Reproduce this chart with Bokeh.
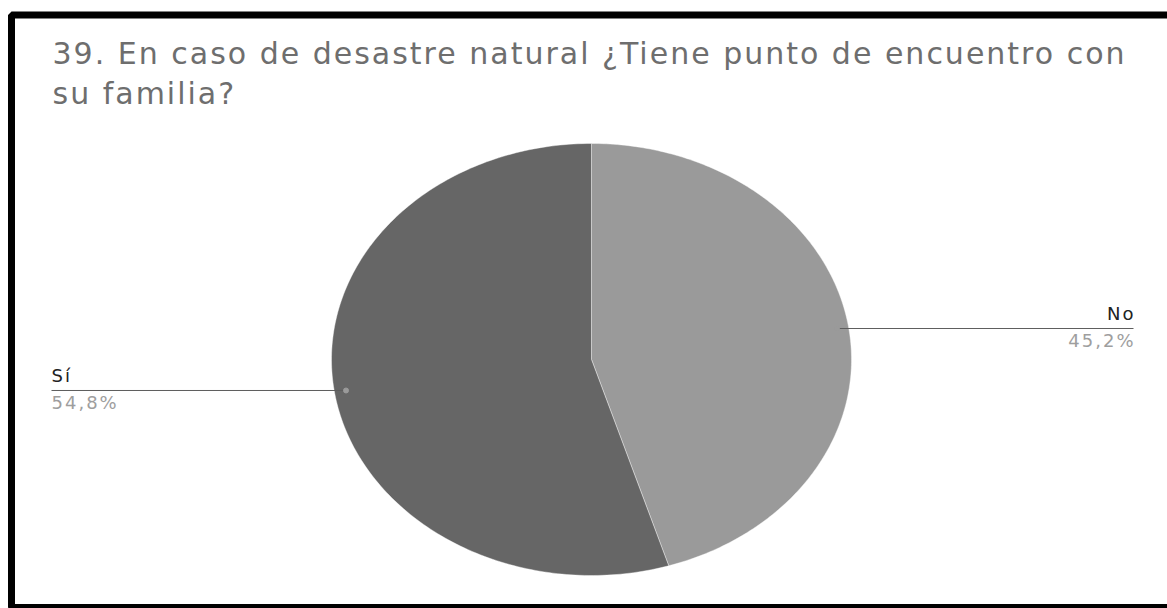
import numpy as np
from bokeh.plotting import figure
from bokeh.models import Range1d, ColumnDataSource, InlineStyleSheet
from bokeh.core.properties import value
from bokeh.embed import file_html
from bokeh.resources import INLINE

# ---- data ----
labels = ["No", "Sí"]
values = [45.2, 54.8]
colors = ["#9a9a9a", "#666666"]
title_lines = ["39. En caso de desastre natural ¿Tiene punto de encuentro con", "su familia?"]

FONT = "DejaVu Sans"
SPACING = 2.0          # letter spacing in px
TITLE_FS = 30
LABEL_FS = 18
BL = 0.42              # baseline correction (fraction of font size)

# ---- figure in page-pixel coordinates ----
p = figure(width=1167, height=608,
           x_range=Range1d(0, 1167), y_range=Range1d(608, 0),
           output_backend="svg", toolbar_location=None, min_border=0,
           x_axis_location=None, y_axis_location=None)
p.grid.visible = False
p.outline_line_color = None
p.background_fill_color = "white"
p.border_fill_color = "white"
p.stylesheets = [InlineStyleSheet(css=":host { letter-spacing: %spx; }" % SPACING)]

# pie geometry (ellipse)
cx, cy, rx, ry = 591, 359, 260, 216

total = float(sum(values))
fracs = [v / total for v in values]
xs, ys, mids = [], [], []
start = 0.0
for f in fracs:
    end = start + f
    a = np.linspace(start, end, 200) * 2 * np.pi
    xs.append([cx] + list(cx + rx * np.sin(a)))
    ys.append([cy] + list(cy - ry * np.cos(a)))
    mids.append((start + end) / 2 * 2 * np.pi)
    start = end

p.patches(xs=xs, ys=ys, fill_color=colors, line_color="white",
          line_width=0.8, line_alpha=0.5)

# leaders & labels
ax = [cx + 0.955 * rx * np.sin(m) for m in mids]
ay = [cy - 0.955 * ry * np.cos(m) for m in mids]
right = [np.sin(m) > 0 for m in mids]
ex = [1133 if r else 51 for r in right]
align = ["right" if r else "left" for r in right]
pct = [("%.1f" % (f * 100)).replace(".", ",") + "%" for f in fracs]

# right-aligned texts: compensate for letter spacing
nx = [e - (SPACING * (len(t) - 1) if r else 0) for e, t, r in zip(ex, labels, right)]
px_ = [e - (SPACING * (len(t) - 1) if r else 0) for e, t, r in zip(ex, pct, right)]

src = ColumnDataSource(dict(ax=ax, ay=ay, ex=ex, nx=nx, px=px_, align=align,
                            name=labels, pct=pct,
                            ny=[y - 7 - BL * LABEL_FS for y in ay],
                            py=[y + 20 - BL * LABEL_FS for y in ay]))

p.segment(x0="ax", y0="ay", x1="ex", y1="ay", source=src,
          line_color="#5e5e5e", line_width=1)
p.scatter(x="ax", y="ay", source=src, size=5, color="#9a9a9a")
p.text(x="nx", y="ny", text="name", source=src, text_align="align",
       text_baseline="alphabetic", text_font=value(FONT),
       text_font_size="%dpx" % LABEL_FS, text_color="#222222")
p.text(x="px", y="py", text="pct", source=src, text_align="align",
       text_baseline="alphabetic", text_font=value(FONT),
       text_font_size="%dpx" % LABEL_FS, text_color="#9e9e9e")

# title
p.text(x=[52, 52], y=[66 - BL * TITLE_FS, 106 - BL * TITLE_FS], text=title_lines,
       text_align="left", text_baseline="alphabetic", text_font=value(FONT),
       text_font_size="%dpx" % TITLE_FS, text_color="#6e6e6e")

# black frame
p.quad(left=[11], right=[1180], top=[14.5], bottom=[607],
       fill_color=None, line_color="black", line_width=7)

open("out.html", "w").write(file_html(p, INLINE))
